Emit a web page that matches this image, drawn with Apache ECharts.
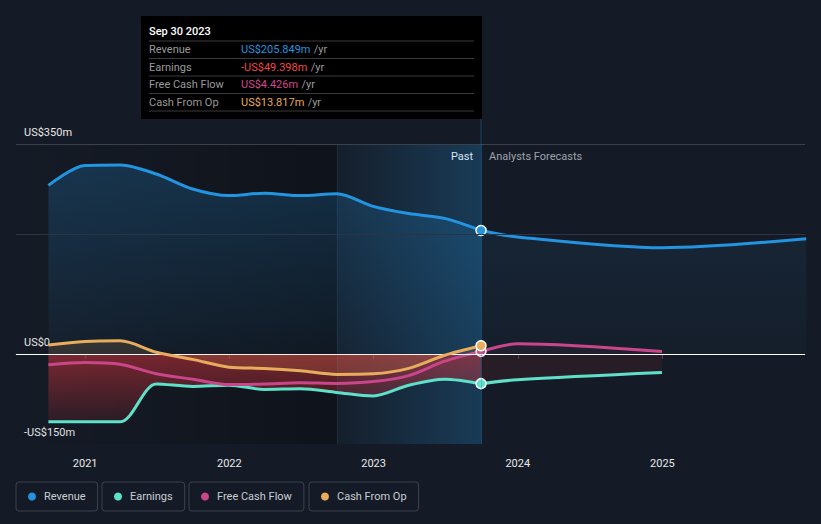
<!DOCTYPE html>
<html><head><meta charset="utf-8">
<script src="https://cdn.jsdelivr.net/npm/echarts@6/dist/echarts.min.js"></script>
<style>html,body{margin:0;padding:0;background:#151b26;}#c{width:821px;height:524px;}</style>
</head><body><div id="c"></div>
<script>
// ---- data ----
const pastDates = ['2020-09-30','2020-12-31','2021-03-31','2021-06-30','2021-09-30','2021-12-31','2022-03-31','2022-06-30','2022-09-30','2022-12-31','2023-03-31','2023-06-30','2023-09-30'];
const revenuePast  = [281, 314, 315, 300, 275, 264, 268, 264, 267, 246, 234, 226, 205.849];
const earningsPast = [-113, -113, -113, -50, -54, -52, -59, -58, -64, -70, -52, -42, -49.398];
const fcfPast      = [-18, -14, -17, -33, -42, -51, -50, -48, -49, -46, -36, -12, 4.426];
const cfoPast      = [15, 21, 22, 3, -9, -22, -24, -28, -34, -33, -24, -2, 13.817];
const revenueForecastDates  = ['2023-12-31','2024-12-31','2025-12-31'];
const revenueForecast       = [195, 177, 192];
const earningsForecastDates = ['2023-12-31','2024-12-31'];
const earningsForecast      = [-43, -31];
const fcfForecastDates      = ['2023-12-31','2024-12-31'];
const fcfForecast           = [17, 4];
const seriesNames = ['Revenue','Earnings','Free Cash Flow','Cash From Op'];
const yLabelTicks = [350, 0, -150];
const yGuideLines = [350, 200];
const xRange = ['2020-07-10','2025-12-28'];
const highlightStart = '2022-09-30';

// ---- styling ----
const COL = {rev:'#2394df', earn:'#5fe0c8', fcf:'#c9468b', cfo:'#e8ad5c'};
const TXT = {rev:'#2394df', earn:'#f04848', fcf:'#d1488e', cfo:'#e8ab57'};
const FONT = 'Roboto, "Noto Sans", sans-serif';
const t = d => Date.parse(d);
const lastIdx = pastDates.length - 1;
const lastDate = pastDates[lastIdx];
const fmt = v => (v < 0 ? '-' : '') + 'US$' + Math.abs(v).toFixed(3) + 'm';
const axisFmt = v => v === 0 ? 'US$0' : (v < 0 ? '-' : '') + 'US$' + Math.abs(v) + 'm';

function pastData(vals, color) {
  return pastDates.map((d, i) => i === lastIdx
    ? {value: [t(d), vals[i]], symbol: 'circle', symbolSize: 10,
       itemStyle: {color: color, borderColor: '#ffffff', borderWidth: 1.5}}
    : [t(d), vals[i]]);
}
function fcData(dates, vals, lastVal) {
  return [[t(lastDate), lastVal]].concat(dates.map((d, i) => [t(d), vals[i]]));
}
function grad(c1, c2) {
  return new echarts.graphic.LinearGradient(0, 0, 0, 1, [{offset: 0, color: c1}, {offset: 1, color: c2}]);
}
const baseLine = {type: 'line', smooth: 0.3, symbol: 'none', showSymbol: true, silent: true};

const chart = echarts.init(document.getElementById('c'), null, {renderer: 'svg'});

const option = {
  backgroundColor: '#151b26',
  animation: false,
  useUTC: true,
  textStyle: {fontFamily: FONT},
  grid: {left: 16, right: 16, top: 144, bottom: 80},
  xAxis: {
    type: 'time', min: t(xRange[0]), max: t(xRange[1]),
    minInterval: 365 * 86400000, maxInterval: 366 * 86400000,
    axisLine: {lineStyle: {color: '#444a53', width: 1}},
    axisTick: {show: true, length: 5, lineStyle: {color: '#444a53'}},
    axisLabel: {color: '#e8e8e8', fontSize: 11, margin: 14, formatter: '{yyyy}', showMinLabel: false, showMaxLabel: false, fontFamily: FONT},
    splitLine: {show: false}
  },
  yAxis: {
    type: 'value', min: -150, max: 350, interval: 50,
    axisLine: {show: false}, axisTick: {show: false}, splitLine: {show: false},
    axisLabel: {inside: true, margin: 8, verticalAlign: 'bottom', padding: [0, 0, 6, 0],
      color: '#e8e8e8', fontSize: 11, fontFamily: FONT,
      formatter: v => yLabelTicks.includes(v) ? axisFmt(v) : ''}
  },
  legend: seriesNames.map((n, i) => ({
    data: [n], top: 482, left: [16, 102, 189, 309][i],
    icon: 'circle', itemWidth: 8, itemHeight: 8,
    padding: [7, 12, 7, 12], borderColor: '#3d434c', borderWidth: 1, borderRadius: 3,
    textStyle: {color: '#c9cdd3', fontSize: 11, lineHeight: 15, padding: [0, 0, 0, 3], fontFamily: FONT}
  })),
  series: [
    Object.assign({}, baseLine, {
      name: 'Revenue', z: 2, data: pastData(revenuePast, COL.rev),
      lineStyle: {color: COL.rev, width: 3}, itemStyle: {color: COL.rev},
      areaStyle: {color: grad('rgba(35,148,223,0.32)', 'rgba(35,148,223,0.06)')},
      markArea: {silent: true, data: [
        [{xAxis: t(xRange[0]), itemStyle: {color: new echarts.graphic.LinearGradient(0,0,1,0,[{offset:0,color:'rgba(0,0,0,0)'},{offset:1,color:'rgba(0,0,0,0.3)'}])}}, {xAxis: t(highlightStart)}],
        [{xAxis: t(highlightStart), itemStyle: {color: new echarts.graphic.LinearGradient(0,0,1,0,[{offset:0,color:'rgba(35,148,223,0.03)'},{offset:1,color:'rgba(35,148,223,0.26)'}])}}, {xAxis: t(lastDate)}]
      ]},
      markLine: {silent: true, symbol: 'none', label: {show: false}, data: [
        ...yGuideLines.map((v, i) => ({yAxis: v, lineStyle: {color: i === 0 ? '#3b414a' : '#2b3440', width: 1, type: 'solid'}})),
        {yAxis: 0, lineStyle: {color: '#ffffff', width: 1.2, type: 'solid'}},
        {xAxis: t(highlightStart), lineStyle: {color: 'rgba(35,148,223,0.12)', width: 1, type: 'solid'}},
        {xAxis: t(lastDate), lineStyle: {color: 'rgba(35,148,223,0.35)', width: 1, type: 'solid'}}
      ]}
    }),
    Object.assign({}, baseLine, {
      name: 'Revenue', z: 2, data: fcData(revenueForecastDates, revenueForecast, revenuePast[lastIdx]),
      lineStyle: {color: COL.rev, width: 3}, itemStyle: {color: COL.rev},
      areaStyle: {color: grad('rgba(35,148,223,0.12)', 'rgba(35,148,223,0.04)')}
    }),
    Object.assign({}, baseLine, {
      name: 'Earnings', z: 3, data: pastData(earningsPast, COL.earn),
      lineStyle: {color: COL.earn, width: 3}, itemStyle: {color: COL.earn},
      areaStyle: {color: grad('rgba(222,52,60,0.72)', 'rgba(222,52,60,0.16)')}
    }),
    Object.assign({}, baseLine, {
      name: 'Earnings', z: 3, data: fcData(earningsForecastDates, earningsForecast, earningsPast[lastIdx]),
      lineStyle: {color: COL.earn, width: 3}, itemStyle: {color: COL.earn},
      areaStyle: {color: 'rgba(210,50,58,0.13)'}
    }),
    Object.assign({}, baseLine, {
      name: 'Free Cash Flow', z: 4, data: pastData(fcfPast, COL.fcf),
      lineStyle: {color: COL.fcf, width: 3}, itemStyle: {color: COL.fcf}
    }),
    Object.assign({}, baseLine, {
      name: 'Free Cash Flow', z: 4, data: fcData(fcfForecastDates, fcfForecast, fcfPast[lastIdx]),
      lineStyle: {color: COL.fcf, width: 3}, itemStyle: {color: COL.fcf},
      areaStyle: {color: 'rgba(201,70,139,0.08)'}
    }),
    Object.assign({}, baseLine, {
      name: 'Cash From Op', z: 5, data: pastData(cfoPast, COL.cfo),
      lineStyle: {color: COL.cfo, width: 3}, itemStyle: {color: COL.cfo},
      areaStyle: {color: 'rgba(232,173,92,0.2)'}
    })
  ]
};
chart.setOption(option);

// ---- overlay: tooltip box, Past / Forecast labels ----
const px = chart.convertToPixel({xAxisIndex: 0}, t(lastDate));
const plotTop = chart.convertToPixel({yAxisIndex: 0}, 350);
const d = new Date(t(lastDate));
const months = ['Jan','Feb','Mar','Apr','May','Jun','Jul','Aug','Sep','Oct','Nov','Dec'];
const title = months[d.getUTCMonth()] + ' ' + d.getUTCDate() + ' ' + d.getUTCFullYear();
const rows = [
  ['Revenue', revenuePast[lastIdx], TXT.rev],
  ['Earnings', earningsPast[lastIdx], TXT.earn],
  ['Free Cash Flow', fcfPast[lastIdx], TXT.fcf],
  ['Cash From Op', cfoPast[lastIdx], TXT.cfo]
];
const boxLeft = 141, boxTop = 16, boxW = px + 1 - 141, boxH = 103;
const g = [
  {type: 'line', shape: {x1: px, y1: boxTop + boxH, x2: px, y2: plotTop}, style: {stroke: 'rgba(35,148,223,0.35)', lineWidth: 1}, silent: true},
  {type: 'rect', shape: {x: boxLeft, y: boxTop, width: boxW, height: boxH}, style: {fill: '#000000'}, silent: true},
  {type: 'text', x: 149, y: 31, style: {text: title, fill: '#ffffff', font: '500 11px ' + FONT, verticalAlign: 'middle'}, silent: true}
];
const sepYs = [41, 58.5, 76, 93.5, 111];
sepYs.forEach(y => g.push({type: 'line', shape: {x1: 149, y1: y, x2: px - 7, y2: y}, style: {stroke: '#3a3a3a', lineWidth: 1}, silent: true}));
rows.forEach((r, i) => {
  const y = 49.8 + i * 17.4;
  g.push({type: 'text', x: 149, y: y, style: {text: r[0], fill: '#9a9a9a', font: '11px ' + FONT, verticalAlign: 'middle'}, silent: true});
  g.push({type: 'text', x: 241, y: y, style: {
    text: '{v|' + fmt(r[1]) + '} {u|/yr}', verticalAlign: 'middle',
    rich: {v: {fill: r[2], font: '11px ' + FONT}, u: {fill: '#9a9a9a', font: '11px ' + FONT}}
  }, silent: true});
});
g.push({type: 'text', x: px - 8, y: 156, style: {text: 'Past', fill: '#ffffff', font: '11px ' + FONT, align: 'right', verticalAlign: 'middle'}, silent: true});
g.push({type: 'text', x: px + 8, y: 156, style: {text: 'Analysts Forecasts', fill: '#9ea3aa', font: '11px ' + FONT, align: 'left', verticalAlign: 'middle'}, silent: true});
chart.setOption({graphic: g});
</script>
</body></html>
